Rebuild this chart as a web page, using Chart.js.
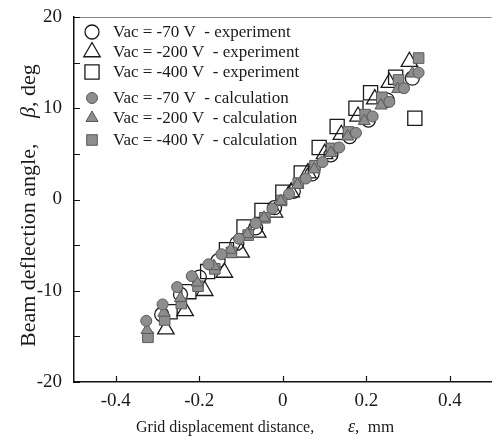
<!DOCTYPE html>
<html>
<head>
<meta charset="utf-8">
<script src="https://cdn.jsdelivr.net/npm/chart.js@4.4.1/dist/chart.umd.min.js"></script>
<style>
  html, body { margin: 0; padding: 0; background: #fff; overflow: hidden; }
  #wrap { width: 495px; height: 440px; overflow: hidden; position: relative; }
  #chart { display: block; }
</style>
</head>
<body>
<div id="wrap"><canvas id="chart" width="503" height="440"></canvas></div>
<script>
// axis ticks
var xTicks = [-0.4, -0.2, 0, 0.2, 0.4];
var xTickLabels = ['-0.4', '-0.2', '0', '0.2', '0.4'];
var yTicks = [-20, -10, 0, 10, 20];
var yTickLabels = ['-20', '-10', '0', '10', '20'];
var yMinorTicks = [-15, -5, 5, 15];

// experiment, Vac = -70 V (open circles)
var exp70X = [-0.29, -0.245, -0.2, -0.155, -0.11, -0.065, -0.02, 0.025, 0.07, 0.115, 0.16, 0.205, 0.25, 0.31];
var exp70Y = [-12.6, -10.4, -8.5, -6.7, -4.8, -3.1, -0.9, 0.9, 2.8, 4.9, 6.9, 8.7, 10.9, 13.3];
// experiment, Vac = -200 V (open triangles)
var exp200X = [-0.28, -0.234, -0.187, -0.14, -0.1, -0.06, -0.02, 0.02, 0.06, 0.1, 0.14, 0.18, 0.22, 0.255, 0.303];
var exp200Y = [-14.2, -12.2, -10.0, -8.0, -5.8, -3.6, -1.4, 0.8, 2.9, 5.0, 7.1, 9.1, 11.0, 12.8, 15.1];
// experiment, Vac = -400 V (open squares)
var exp400X = [-0.27, -0.225, -0.18, -0.135, -0.093, -0.05, 0.0, 0.044, 0.087, 0.13, 0.175, 0.21, 0.27, 0.316];
var exp400Y = [-12.3, -10.1, -7.9, -5.5, -3.0, -1.2, 0.8, 2.9, 5.7, 8.0, 10.0, 11.7, 13.4, 8.9];
// calculation, Vac = -70 V (gray circles)
var calc70X = [-0.327, -0.288, -0.253, -0.218, -0.178, -0.147, -0.105, -0.065, -0.025, 0.015, 0.055, 0.095, 0.135, 0.175, 0.215, 0.255, 0.29, 0.325];
var calc70Y = [-13.3, -11.5, -9.6, -8.4, -7.1, -6.0, -4.3, -2.6, -1.0, 0.6, 2.3, 4.1, 5.7, 7.3, 9.1, 10.7, 12.2, 13.9];
// calculation, Vac = -200 V (gray triangles)
var calc200X = [-0.325, -0.285, -0.245, -0.205, -0.165, -0.125, -0.085, -0.045, -0.005, 0.035, 0.075, 0.115, 0.155, 0.195, 0.235, 0.275, 0.31];
var calc200Y = [-14.3, -12.4, -10.8, -9.1, -7.3, -5.5, -3.8, -2.0, -0.2, 1.6, 3.3, 5.1, 6.9, 8.6, 10.3, 12.1, 13.8];
// calculation, Vac = -400 V (gray squares)
var calc400X = [-0.323, -0.283, -0.243, -0.203, -0.163, -0.123, -0.083, -0.043, -0.003, 0.037, 0.077, 0.117, 0.157, 0.197, 0.237, 0.277, 0.325];
var calc400Y = [-15.1, -13.2, -11.4, -9.5, -7.6, -5.8, -3.9, -2.0, -0.1, 1.8, 3.7, 5.6, 7.4, 9.3, 11.2, 13.1, 15.5];

var legendLabels = [
  'Vac = -70 V  - experiment',
  'Vac = -200 V  - experiment',
  'Vac = -400 V  - experiment',
  'Vac = -70 V  - calculation',
  'Vac = -200 V  - calculation',
  'Vac = -400 V  - calculation'
];

function toPoints(xs, ys) {
  var pts = [];
  for (var i = 0; i < xs.length; i++) pts.push({x: xs[i], y: ys[i]});
  return pts;
}

var SERIF = '"Liberation Serif", "DejaVu Serif", serif';
var GRAY = '#8e8e8e';
var GRAY_EDGE = '#595959';

function openSet(label, xs, ys, style, r) {
  return {
    label: label, data: toPoints(xs, ys), pointStyle: style, pointRadius: r,
    pointBorderWidth: 1.3, pointBorderColor: '#1a1a1a', pointBackgroundColor: 'rgba(0,0,0,0)',
    showLine: false, order: 2
  };
}
function calcSet(label, xs, ys, style, r) {
  return {
    label: label, data: toPoints(xs, ys), pointStyle: style, pointRadius: r,
    pointBorderWidth: 1, pointBorderColor: GRAY_EDGE, pointBackgroundColor: GRAY,
    showLine: false, order: 1
  };
}

var datasets = [
  openSet(legendLabels[0], exp70X, exp70Y, 'circle', 7),
  openSet(legendLabels[1], exp200X, exp200Y, 'triangle', 9.5),
  openSet(legendLabels[2], exp400X, exp400Y, 'rect', 10),
  calcSet(legendLabels[3], calc70X, calc70Y, 'circle', 5.5),
  calcSet(legendLabels[4], calc200X, calc200Y, 'triangle', 7),
  calcSet(legendLabels[5], calc400X, calc400Y, 'rect', 7.5)
];

// ticks pointing inward, minor y ticks, top frame line, legend and axis titles
var decor = {
  id: 'decor',
  afterDraw: function(chart) {
    var ctx = chart.ctx, a = chart.chartArea;
    var xs = chart.scales.x, ys = chart.scales.y;
    ctx.save();
    ctx.strokeStyle = '#888';
    ctx.lineWidth = 1;
    ctx.beginPath();
    ctx.moveTo(a.left, a.top + 0.5);
    ctx.lineTo(a.right, a.top + 0.5);
    ctx.stroke();

    ctx.strokeStyle = '#111';
    ctx.lineWidth = 1.2;
    ctx.beginPath();
    yTicks.concat(yMinorTicks).forEach(function(v) {
      var py = Math.round(ys.getPixelForValue(v)) + 0.5;
      ctx.moveTo(a.left, py);
      ctx.lineTo(a.left + 6, py);
    });
    xTicks.forEach(function(v) {
      var px = Math.round(xs.getPixelForValue(v)) + 0.5;
      ctx.moveTo(px, a.bottom);
      ctx.lineTo(px, a.bottom - 6);
    });
    ctx.stroke();

    // legend
    var rowsY = [32, 52, 72, 98, 118, 140];
    ctx.font = '17px ' + SERIF;
    ctx.textBaseline = 'middle';
    ctx.textAlign = 'left';
    chart.data.datasets.forEach(function(ds, i) {
      ctx.fillStyle = ds.pointBackgroundColor;
      ctx.strokeStyle = ds.pointBorderColor;
      ctx.lineWidth = ds.pointBorderWidth;
      Chart.helpers.drawPoint(ctx, {
        pointStyle: ds.pointStyle, radius: ds.pointRadius, rotation: 0, borderWidth: ds.pointBorderWidth
      }, 92, rowsY[i]);
      ctx.fillStyle = '#1a1a1a';
      ctx.fillText(ds.label, 113, rowsY[i] + 1);
    });

    // x title
    ctx.fillStyle = '#1a1a1a';
    ctx.textBaseline = 'alphabetic';
    ctx.font = '16px ' + SERIF;
    ctx.fillText('Grid displacement distance,', 136, 432);
    ctx.font = 'italic 18px ' + SERIF;
    ctx.fillText('\u03b5', 348, 432);
    var ew = ctx.measureText('\u03b5').width;
    ctx.font = '17px ' + SERIF;
    ctx.fillText(',  mm', 348 + ew, 432);

    // y title
    ctx.translate(35, 347);
    ctx.rotate(-Math.PI / 2);
    ctx.font = '22px ' + SERIF;
    ctx.fillText('Beam deflection angle,', 0, 0);
    ctx.font = 'italic 22px ' + SERIF;
    ctx.fillText('\u03b2', 229, 0);
    var bw = ctx.measureText('\u03b2').width;
    ctx.font = '22px ' + SERIF;
    ctx.fillText(', deg', 229 + bw, 0);
    ctx.restore();
  }
};

var config = {
  type: 'scatter',
  data: { datasets: datasets },
  options: {
    responsive: false,
    animation: false,
    layout: { padding: { top: 17, left: 0, right: 0, bottom: 0 } },
    plugins: { legend: { display: false }, tooltip: { enabled: false } },
    scales: {
      x: {
        type: 'linear', min: -0.5, max: 0.5,
        afterBuildTicks: function(s) { s.ticks = xTicks.map(function(v) { return {value: v}; }); },
        afterFit: function(s) { s.height = 58; s.paddingLeft = 0; s.paddingRight = 0; },
        grid: { display: false, drawTicks: false },
        border: { display: true, color: '#111', width: 1.5 },
        ticks: {
          autoSkip: false, maxRotation: 0, padding: 8, color: '#1a1a1a',
          font: { family: SERIF, size: 19 },
          callback: function(v, i) { return xTickLabels[i]; }
        }
      },
      y: {
        type: 'linear', min: -20, max: 20,
        afterBuildTicks: function(s) { s.ticks = yTicks.map(function(v) { return {value: v}; }); },
        afterFit: function(s) { s.width = 74; s.paddingTop = 0; s.paddingBottom = 0; },
        grid: { display: false, drawTicks: false },
        border: { display: true, color: '#111', width: 1.5 },
        ticks: {
          padding: 12, color: '#1a1a1a',
          font: { family: SERIF, size: 19 },
          callback: function(v, i) { return yTickLabels[i]; }
        }
      }
    }
  },
  plugins: [decor]
};

window.onload = function() {
  var ctx = document.getElementById('chart').getContext('2d');
  window.myChart = new Chart(ctx, config);
};
</script>
</body>
</html>
